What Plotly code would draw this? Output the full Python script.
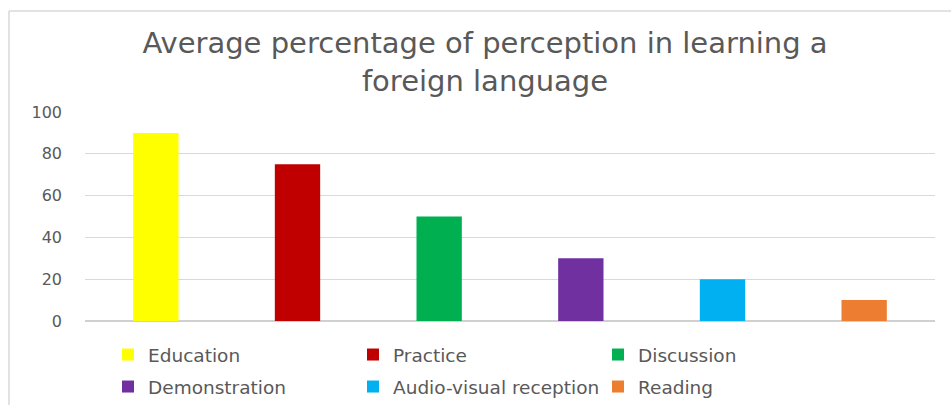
import plotly.graph_objects as go

categories = ["Education", "Practice", "Discussion", "Demonstration", "Audio-visual reception", "Reading"]
values = [90, 75, 50, 30, 20, 10]
colors = ["#FFFF00", "#C00000", "#00B050", "#7030A0", "#00B0F0", "#ED7D31"]
y_ticks = [0, 20, 40, 60, 80, 100]

W, H = 951, 405
FONT = "DejaVu Sans, Open Sans, sans-serif"
GREY = "#595959"

fig = go.Figure()
for i, (c, v, col) in enumerate(zip(categories, values, colors)):
    fig.add_trace(go.Bar(x=[c], y=[v], name=c,
                         marker=dict(color=col, line=dict(width=0)),
                         width=0.32,
                         legend="legend" if i < 3 else "legend2"))

legend_common = dict(orientation="h", xref="container", yref="container",
                     xanchor="left", yanchor="middle",
                     entrywidth=200, entrywidthmode="pixels", traceorder="normal",
                     font=dict(size=18.5, color=GREY, family=FONT), itemclick=False,
                     bgcolor="rgba(0,0,0,0)")

fig.update_layout(
    width=W, height=H,
    barmode="overlay",
    paper_bgcolor="white", plot_bgcolor="white",
    margin=dict(l=85, r=16, t=112, b=84, autoexpand=False),
    font=dict(family=FONT, color=GREY, size=16),
    title=dict(text="Average percentage of perception in learning a<br>foreign language",
               xref="container", yref="container",
               x=485 / W, xanchor="center", y=1 - 53 / H, yanchor="middle",
               font=dict(size=29, color=GREY, family=FONT)),
    xaxis=dict(showticklabels=False, showgrid=False, zeroline=False, showline=False,
               categoryorder="array", categoryarray=categories, automargin=False),
    yaxis=dict(range=[0, 100], tickvals=y_ticks, showgrid=True, gridcolor="#D9D9D9",
               gridwidth=1, zeroline=True, zerolinecolor="#D0D0D0", zerolinewidth=1.5,
               ticks="", ticklabelstandoff=22, automargin=False,
               tickfont=dict(size=16, color=GREY, family=FONT)),
    legend=dict(x=108 / W, y=1 - 355 / H, **legend_common),
    legend2=dict(x=108 / W, y=1 - 387 / H, **legend_common),
    showlegend=True,
)
ph = H - 112 - 84
pw = W - 85 - 16
fig.add_shape(type="line", xref="paper", yref="paper",
              x0=(9 - 85) / pw, x1=(9 - 85) / pw,
              y0=-84 / ph, y1=(H - 11 - 84) / ph,
              line=dict(color="#D9D9D9", width=1.5))
fig.add_shape(type="line", xref="paper", yref="paper",
              x0=(9 - 85) / pw, x1=(951 - 85) / pw,
              y0=(H - 11 - 84) / ph, y1=(H - 11 - 84) / ph,
              line=dict(color="#D9D9D9", width=1.5))

fig.write_html("out.html", config={"displayModeBar": False},
               post_script="document.body.style.margin='0';document.body.style.overflow='hidden';")
